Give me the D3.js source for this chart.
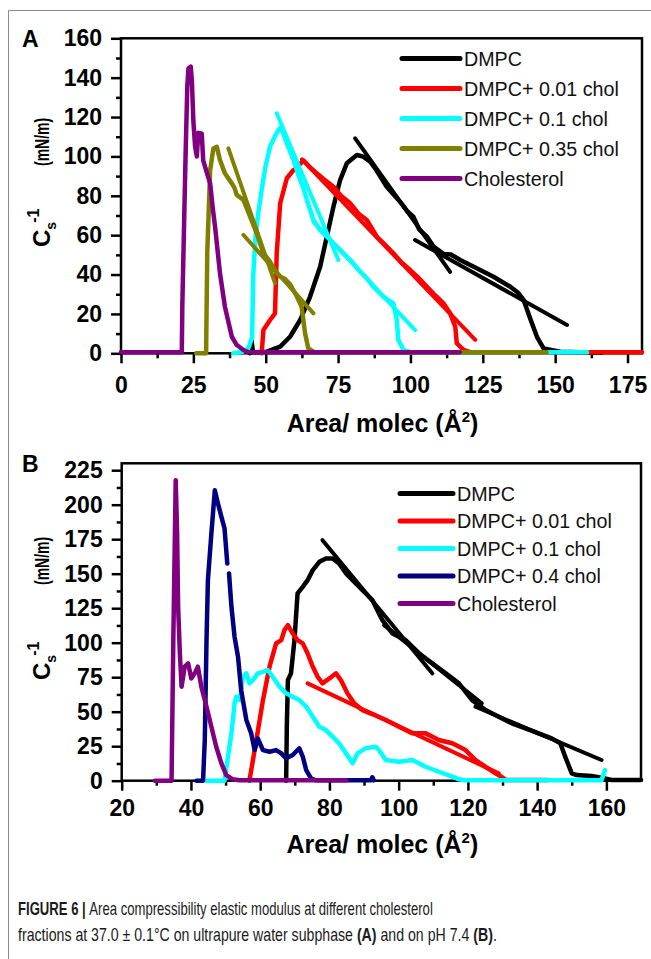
<!DOCTYPE html>
<html lang="en">
<head>
<meta charset="UTF-8">
<title>Figure 6</title>
<script src="https://cdn.jsdelivr.net/npm/d3@7"></script>
<style>
  body { margin: 0; background: #fff; }
  svg text { font-family: "Liberation Sans", Arial, sans-serif; }
</style>
</head>
<body>
<div id="chart"></div>
<script>
// ---- panel A (ultrapure water) : [area, Cs^-1]
const legendA = ["DMPC", "DMPC+ 0.01 chol", "DMPC+ 0.1 chol", "DMPC+ 0.35 chol", "Cholesterol"];
const dmpcA = [[44.5,0],[45.1,6.5],[45.6,0.5],[50.4,0.8],[55,3.4],[58.4,8.4],[61.9,16.9],[65.3,28.7],[68.8,44],[71.1,59.2],[73.4,74.5],[75.7,88],[78,96.5],[81.5,100.7],[83.7,99.9],[86.1,97.3],[88.2,93.1],[91.8,84.6],[96.4,77],[99,72],[101,69.4],[103,63],[105.7,59.2],[108,54.2],[111.4,50.5],[114,50.2],[117.2,47.4],[122.9,43.2],[128.7,38.9],[134.5,33.8],[137,31],[139.1,27.1],[141.4,17.5],[143.7,8.4],[146,2.5],[151.7,0.8],[166,0.3]];
const chol001A = [[48.6,0],[49.2,11.8],[51.5,16.9],[53.2,20.3],[53.8,50.8],[55,76.2],[57.3,88.9],[59.6,93.1],[60.5,94],[63,98],[65,95],[67.6,91.4],[70,88.5],[73.4,84.6],[76,80],[79.2,76.2],[82,71],[84.9,67.7],[88.4,59.2],[91,55.5],[94.1,50.8],[97,46],[99.9,42.3],[103,38],[105.7,33.8],[108.5,29.5],[111.4,25.4],[113.7,20.3],[115.5,13.5],[116,5.1],[118.3,1.7],[121,0.5],[180,0.5]];
const chol01A = [[38.8,0],[42,0.8],[44,2.5],[45.3,8],[45.7,40],[46.5,60],[47.5,72],[48.6,83],[49.8,94],[51.5,105],[53.8,112],[55.3,115],[56.7,109],[58,104],[59.6,98.2],[61.9,88],[63,84],[64.2,77.9],[66.5,67.7],[68.8,62.6],[71.1,59.2],[73.4,55.9],[75.7,52.5],[79.2,47.4],[82.6,41.5],[85,38],[87.2,33.8],[90.7,28.7],[94.1,25.4],[95.3,16.9],[95.8,6.8],[97.6,1.7],[100,0.5],[161,0.5]];
const chol035A = [[26,0],[29.4,0],[29.8,50.8],[30.8,93],[31.9,104],[33.1,104.9],[34.2,98.2],[35.9,91.4],[37,89],[38.3,86.3],[39.2,84],[40,80.4],[42.3,77.9],[44.6,69.4],[46.9,60.9],[49.2,50.8],[51.5,46.5],[53.8,40.6],[55,38.9],[56.5,38],[58.4,35],[60.7,29],[62.4,23.7],[63.6,10.2],[64.7,2.5],[67,0.5],[147,0.5]];
const cholA = [[0,0.5],[21,0.5],[21.2,25],[22.3,100],[22.9,135.4],[23.3,144.7],[24.1,145.6],[24.5,138],[25,118],[25.6,105],[26.2,100],[26.7,112],[27.9,111.5],[28.4,98],[29.6,92],[30.8,86.3],[31.6,75],[32.5,64.3],[34.2,40.6],[35.9,23.7],[38.3,8.4],[40,4.2],[42.3,1.7],[44,0.5],[117,0.5]];
// straight fits drawn over the curves
const fitDmpcA = [[[80.9,109.2],[113.7,41.4]], [[101.6,57.5],[154.1,14.4]]];
const fitChol001A = [[[62.5,98.5],[122.4,6.8]]];
const fitChol01A = [[[53.8,121.9],[75.1,47.4]], [[66.5,66.8],[101.6,11.8]]];
const fitChol035A = [[[37.1,104.1],[53.2,35.6]], [[42.3,60.1],[66.5,20.3]]];
const xTicksA = [0, 25, 50, 75, 100, 125, 150, 175];
const yTicksA = [0, 20, 40, 60, 80, 100, 120, 140, 160];

// ---- panel B (pH 7.4)
const legendB = ["DMPC", "DMPC+ 0.01 chol", "DMPC+ 0.1 chol", "DMPC+ 0.4 chol", "Cholesterol"];
const dmpcB = [[67.5,0],[67.7,40],[68,72.9],[68.9,77.8],[69.9,101.9],[70.8,135.7],[72.3,140.5],[73.7,145.3],[75.2,152.6],[77.1,158.6],[79,161],[80.9,161],[82.8,157.4],[84.8,150.2],[86.7,145.3],[88.6,140.5],[90.5,135.7],[92.4,130.9],[94.3,121.2],[95.3,116.4],[98.2,106.7],[102,101.9],[105.9,92.2],[109.7,85],[113.6,77.8],[117.4,70.5],[121.2,58.4],[125.1,51.2],[128.9,46.3],[132.7,41.6],[136.6,37.9],[140.4,34.3],[144.2,30.7],[146.7,27.1],[148.1,17.4],[150,5.3],[151.4,4.1],[155.8,3.4],[159.6,1.7],[161.5,0.5],[170,0.5]];
const chol001B = [[56.9,0],[58.9,29.5],[60.8,58.4],[62.7,82.6],[64.6,99.5],[66.1,101.9],[67,109.1],[68,112.7],[69.4,106.7],[70.8,101.9],[72.3,99.5],[73.7,92.2],[75.2,82.6],[76.6,75.3],[78,70.5],[80,74.1],[81.9,77.8],[83.3,72.9],[85.2,63.3],[87.2,56],[89.5,51.2],[92.4,48.3],[96.3,44],[100.1,39.1],[104,34.3],[107.8,34.3],[111.6,29.5],[115.5,27.1],[119.3,22.2],[122.2,15],[125.1,10.1],[128,5.3],[129.9,2.5],[131,0.5],[143,0.5]];
const chol01B = [[44.5,0],[49.7,0],[50.7,17.4],[51.7,34.3],[52.6,56],[53.1,60.8],[54.1,58.4],[55,75.3],[56,77.8],[56.9,70.5],[57.9,72.9],[59.3,77.8],[60.8,78.9],[62.2,80.2],[63.6,75.3],[65.6,68.1],[67.5,63.3],[69.4,60.8],[71.3,58.4],[73.3,53.6],[75.2,46.3],[77.1,39.1],[79,36.7],[80.9,31.9],[82.8,27.1],[84.8,19.8],[86.7,12.6],[88.1,19.8],[90.5,23.6],[93.4,24.6],[94.3,22.2],[96.3,15],[100.1,13.8],[104,15],[107.8,10.1],[111.6,6.5],[115.5,2.9],[117.4,1],[119,0.3],[158.6,0.3],[159.6,7.7]];
const chol04B = [[41.6,0],[43.5,0],[44,29.5],[44.5,101.9],[44.9,145.3],[45.9,179.1],[46.9,210.5],[47.8,200.9],[48.8,191.2],[49.7,182.8],[50.5,157.4],null,[51,150.2],[51.7,126],[52.6,104.3],[53.6,89.8],[54.5,65.7],[56,44],[57.4,34.3],[58.4,22.2],[59.3,30.7],[60.8,22.2],[62.7,21],[64.6,22.2],[66.1,19.8],[67.5,16.2],[69.4,18.6],[71.3,23.5],[72.3,17.4],[73.3,7.7],[74.7,1.7],[76,0.3],[92,0.3],[92.4,2.5],[92.8,0.3]];
const cholB = [[29.6,0],[34.4,0],[34.9,100],[35.6,217.8],[36,180],[36.3,126],[36.8,92.2],[37.3,68.1],[38.2,82.6],[39.2,85],[40.1,74.1],[41.1,77.8],[42,82.6],[43,68.1],[44.5,53.6],[45.9,39.1],[47.3,24.6],[48.8,12.6],[50.2,4.1],[52.1,1],[54,0.3],[84.8,0.3]];
const fitDmpcB = [[[78,174.3],[109.7,77.8]], [[95.8,112.7],[124,56]], [[122.2,53.6],[158.6,15]]];
const fitChol001B = [[[73.7,70.5],[128.9,5.3]]];
const xTicksB = [20, 40, 60, 80, 100, 120, 140, 160];
const yTicksB = [0, 25, 50, 75, 100, 125, 150, 175, 200, 225];

const colorsA = ["#000000", "#ff0000", "#00ffff", "#808000", "#800080"];
const colorsB = ["#000000", "#ff0000", "#00ffff", "#000080", "#800080"];

const width = 651;
const height = 959;

const svg = d3.select("#chart").append("svg")
    .attr("width", width)
    .attr("height", height);

// thin page border like the journal figure frame
svg.append("path")
    .attr("d", "M8.5,959 V10.5 H651")
    .attr("fill", "none")
    .attr("stroke", "#8a8a8a")
    .attr("stroke-width", 1);

function drawPanel(p) {
    const x = d3.scaleLinear().domain(p.xDomain).range([p.left, p.right]);
    const y = d3.scaleLinear().domain(p.yDomain).range([p.bottom, p.top]);
    const g = svg.append("g");

    // minor ticks
    g.append("g")
        .attr("transform", `translate(0,${p.bottom})`)
        .call(d3.axisBottom(x).tickValues(p.xMinor).tickSize(5).tickSizeOuter(0).tickFormat(""))
        .call(a => a.select(".domain").remove());
    g.append("g")
        .attr("transform", `translate(${p.left},0)`)
        .call(d3.axisLeft(y).tickValues(p.yMinor).tickSize(5).tickSizeOuter(0).tickFormat(""))
        .call(a => a.select(".domain").remove());

    // major ticks + labels
    g.append("g")
        .attr("transform", `translate(0,${p.bottom})`)
        .call(d3.axisBottom(x).tickValues(p.xTicks).tickSize(10).tickSizeOuter(0).tickPadding(p.xPad).tickFormat(d3.format("d")))
        .call(a => a.select(".domain").remove());
    g.append("g")
        .attr("transform", `translate(${p.left},0)`)
        .call(d3.axisLeft(y).tickValues(p.yTicks).tickSize(10).tickSizeOuter(0).tickPadding(9).tickFormat(d3.format("d")))
        .call(a => a.select(".domain").remove());

    g.selectAll(".tick line").attr("stroke", "#000").attr("stroke-width", 2.5);
    g.selectAll(".tick text")
        .attr("fill", "#000")
        .attr("font-size", 23)
        .attr("font-weight", "bold")
        .attr("font-family", "'Liberation Sans', Arial, sans-serif");

    // frame
    g.append("rect")
        .attr("x", p.left).attr("y", p.top)
        .attr("width", p.right - p.left).attr("height", p.bottom - p.top)
        .attr("fill", "none").attr("stroke", "#000").attr("stroke-width", 2.5);

    const line = d3.line()
        .defined(d => d != null)
        .x(d => x(d[0]))
        .y(d => y(d[1]));

    p.series.forEach((s, i) => {
        g.append("path")
            .datum(s.values)
            .attr("d", line)
            .attr("fill", "none")
            .attr("stroke", p.colors[i])
            .attr("stroke-width", 4.5)
            .attr("stroke-linejoin", "round")
            .attr("stroke-linecap", "round");
        (s.fits || []).forEach(f => {
            g.append("path")
                .datum(f)
                .attr("d", line)
                .attr("fill", "none")
                .attr("stroke", p.colors[i])
                .attr("stroke-width", 4)
                .attr("stroke-linecap", "round");
        });
    });

    // legend
    const leg = g.append("g");
    p.legend.forEach((name, i) => {
        const ly = p.legY + i * p.legStep;
        leg.append("line")
            .attr("x1", p.legX).attr("x2", p.legX + p.legLen)
            .attr("y1", ly).attr("y2", ly)
            .attr("stroke", p.colors[i]).attr("stroke-width", 5)
            .attr("stroke-linecap", "round");
        leg.append("text")
            .attr("x", p.legX + p.legLen + 4)
            .attr("y", ly)
            .attr("dy", "0.36em")
            .attr("font-size", 19.7)
            .attr("fill", "#111")
            .text(name);
    });

    // panel letter
    g.append("text")
        .attr("x", 22).attr("y", p.letterY)
        .attr("font-size", 23).attr("font-weight", "bold")
        .text(p.letter);

    // x title
    const xt = g.append("text")
        .attr("x", (p.left + p.right) / 2 + 1)
        .attr("y", p.xTitleY)
        .attr("text-anchor", "middle")
        .attr("font-size", 25).attr("font-weight", "bold");
    xt.append("tspan").text("Area/ molec (Å");
    xt.append("tspan").attr("font-size", 15).attr("dy", -10).text("2");
    xt.append("tspan").attr("dy", 10).text(")");

    // y title: C_s^-1 ... (mN/m)
    const yt = g.append("text")
        .attr("transform", `translate(50,${p.yTitleC}) rotate(-90)`)
        .attr("font-size", 24).attr("font-weight", "bold");
    yt.append("tspan").text("C");
    yt.append("tspan").attr("font-size", 14).attr("dy", 6).text("s");
    yt.append("tspan").attr("font-size", 16).attr("dy", -17).attr("dx", -1).text("-1");
    g.append("text")
        .attr("transform", `translate(48.5,${p.yTitleU}) rotate(-90) scale(0.7,1)`)
        .attr("font-size", 20).attr("font-weight", "bold")
        .text("(mN/m)");
}

drawPanel({
    letter: "A", letterY: 47,
    left: 121, right: 642, top: 38.3, bottom: 353.3,
    xDomain: [0, 180], yDomain: [0, 160],
    xTicks: xTicksA, yTicks: yTicksA,
    xMinor: d3.range(12.5, 180, 25), yMinor: d3.range(10, 160, 20),
    xPad: 13, xTitleY: 432,
    yTitleC: 247, yTitleU: 166,
    colors: colorsA, legend: legendA,
    legX: 402, legLen: 58, legY: 58.5, legStep: 30,
    series: [
        { values: dmpcA, fits: fitDmpcA },
        { values: chol001A, fits: fitChol001A },
        { values: chol01A, fits: fitChol01A },
        { values: chol035A, fits: fitChol035A },
        { values: cholA }
    ]
});

drawPanel({
    letter: "B", letterY: 472,
    left: 121.7, right: 641, top: 463.3, bottom: 780.7,
    xDomain: [20, 170], yDomain: [0, 230],
    xTicks: xTicksB, yTicks: yTicksB,
    xMinor: d3.range(30, 170, 20), yMinor: d3.range(12.5, 225, 25),
    xPad: 9, xTitleY: 853,
    yTitleC: 680, yTitleU: 585,
    colors: colorsB, legend: legendB,
    legX: 400, legLen: 53, legY: 493.5, legStep: 27.5,
    series: [
        { values: dmpcB, fits: fitDmpcB },
        { values: chol001B, fits: fitChol001B },
        { values: chol01B },
        { values: chol04B },
        { values: cholB }
    ]
});

// caption: set in a regular face, then squeezed to the condensed width of the original
function caption(parts, yPos, targetWidth) {
    const t = svg.append("text")
        .attr("font-size", 17.5)
        .attr("fill", "#1a1a1a");
    parts.forEach(([txt, bold]) => {
        t.append("tspan").attr("font-weight", bold ? "bold" : null).text(txt);
    });
    const len = t.node().getComputedTextLength();
    t.attr("transform", `translate(18,${yPos}) scale(${targetWidth / len},1)`);
}

caption([["FIGURE 6 | ", true], ["Area compressibility elastic modulus at different cholesterol", false]], 915, 415);
caption([["fractions at 37.0 ± 0.1°C on ultrapure water subphase ", false], ["(A)", true],
         [" and on pH 7.4 ", false], ["(B)", true], [".", false]], 941, 479);
</script>
</body>
</html>
